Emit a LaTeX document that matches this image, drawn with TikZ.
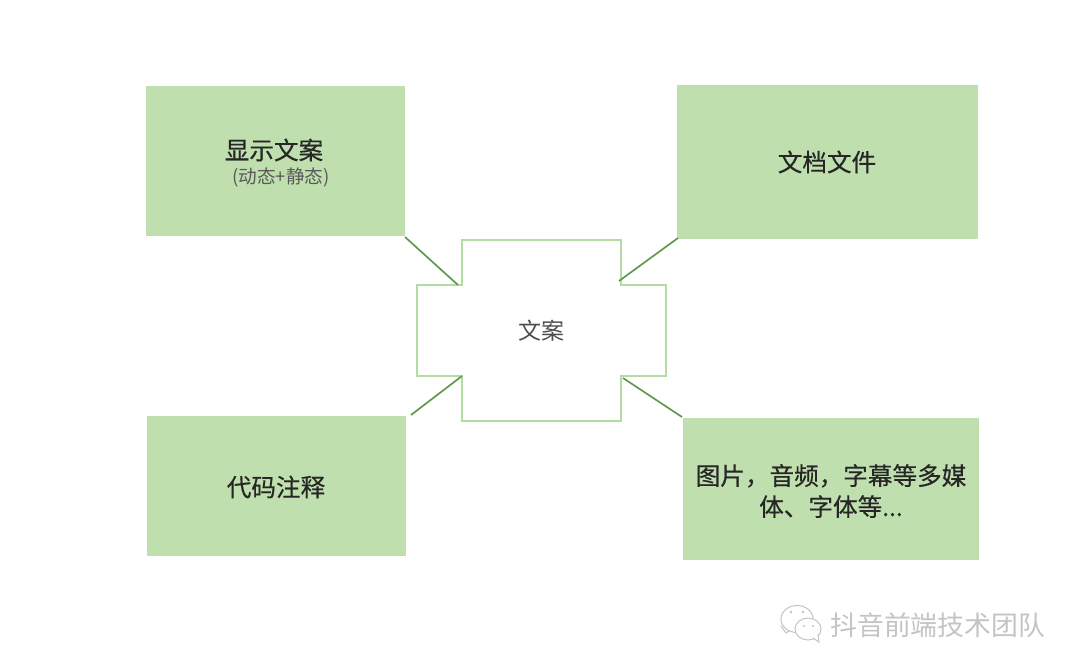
\documentclass[tikz,border=0pt]{standalone}
\usepackage{fontspec}
\setmainfont{Liberation Sans}
\newfontfamily\cjk{Noto Sans CJK SC}
\newfontfamily\cjkb[FakeBold=0.4]{Noto Sans CJK SC}
\definecolor{boxfill}{HTML}{BFE0AE}
\definecolor{crossline}{HTML}{B2DCA2}
\definecolor{linkline}{HTML}{5F9A4C}
\definecolor{txt}{HTML}{262626}
\definecolor{wm}{HTML}{C4C4C4}
\tikzset{
  x=1pt,y=-1pt,
  greenbox/.style={fill=boxfill,draw=none,inner sep=0pt},
  boxtitle/.style={inner sep=0pt,align=center,text=txt,font=\cjkb\fontsize{24.6}{31}\selectfont},
  link/.style={draw=linkline,line width=1.7pt},
  crossedge/.style={draw=crossline,line width=1.4pt},
  bubble/.style={draw=wm,line width=1pt,fill=white}
}
\begin{document}
\begin{tikzpicture}
\useasboundingbox (0,0) rectangle (1080,672);
\node[greenbox,minimum width=259pt,minimum height=150pt] (a) at (275.5,161) {};
\node[boxtitle] (atitle) at (274,150) {显示文案};
\node[font=\cjk\fontsize{18.6}{20}\selectfont,text=black!65,inner sep=0pt] (asub) at (281,177) {(动态+静态)};
\node[greenbox,minimum width=301pt,minimum height=154pt] (b) at (827.5,162) {};
\node[boxtitle] (btitle) at (827,162) {文档文件};
\node[greenbox,minimum width=259pt,minimum height=140pt] (c) at (276.5,486) {};
\node[boxtitle] (ctitle) at (276,487) {代码注释};
\node[greenbox,minimum width=296pt,minimum height=142pt] (d) at (831,489) {};
\node[boxtitle] (dtitle) at (831,491) {图片，音频，字幕等多媒\\体、字体等...};
\coordinate (tl) at (458,285);
\coordinate (tr) at (619,281);
\coordinate (bl) at (462,376);
\coordinate (br) at (623,378);
\draw[crossedge] (462,240) -- (621,240) -- (621,285) -- (666,285) -- (666,376) -- (621,376) -- (621,421) -- (462,421) -- (462,376) -- (417,376) -- (417,285) -- (462,285) -- cycle;
\node[font=\cjk\fontsize{23}{28}\selectfont,text=black!70] (center) at (541,331) {文案};
\coordinate (ae) at (405,237);
\coordinate (be) at (678,238);
\coordinate (ce) at (411,415);
\coordinate (de) at (682,417);
\draw[link] (ae) -- (tl);
\draw[link] (be) -- (tr);
\draw[link] (ce) -- (bl);
\draw[link] (de) -- (br);
% watermark icon
\draw[bubble] (781,626) -- (786,633) -- (792,629);
\draw[bubble] (797,619) ellipse [x radius=16pt,y radius=13.5pt];
\draw[bubble] (808,629) ellipse [x radius=13pt,y radius=11pt];
\draw[bubble] (813,638) -- (819,642) -- (818,634);
\fill[wm] (791,612) circle (1.3pt) (803,612) circle (1.3pt) (804,626) circle (1.2pt) (813,626) circle (1.2pt);
\node[font=\cjk\fontsize{26.9}{30}\selectfont,text=wm,anchor=west,inner sep=0pt] (wmtext) at (830,625) {抖音前端技术团队};
\end{tikzpicture}
\end{document}
